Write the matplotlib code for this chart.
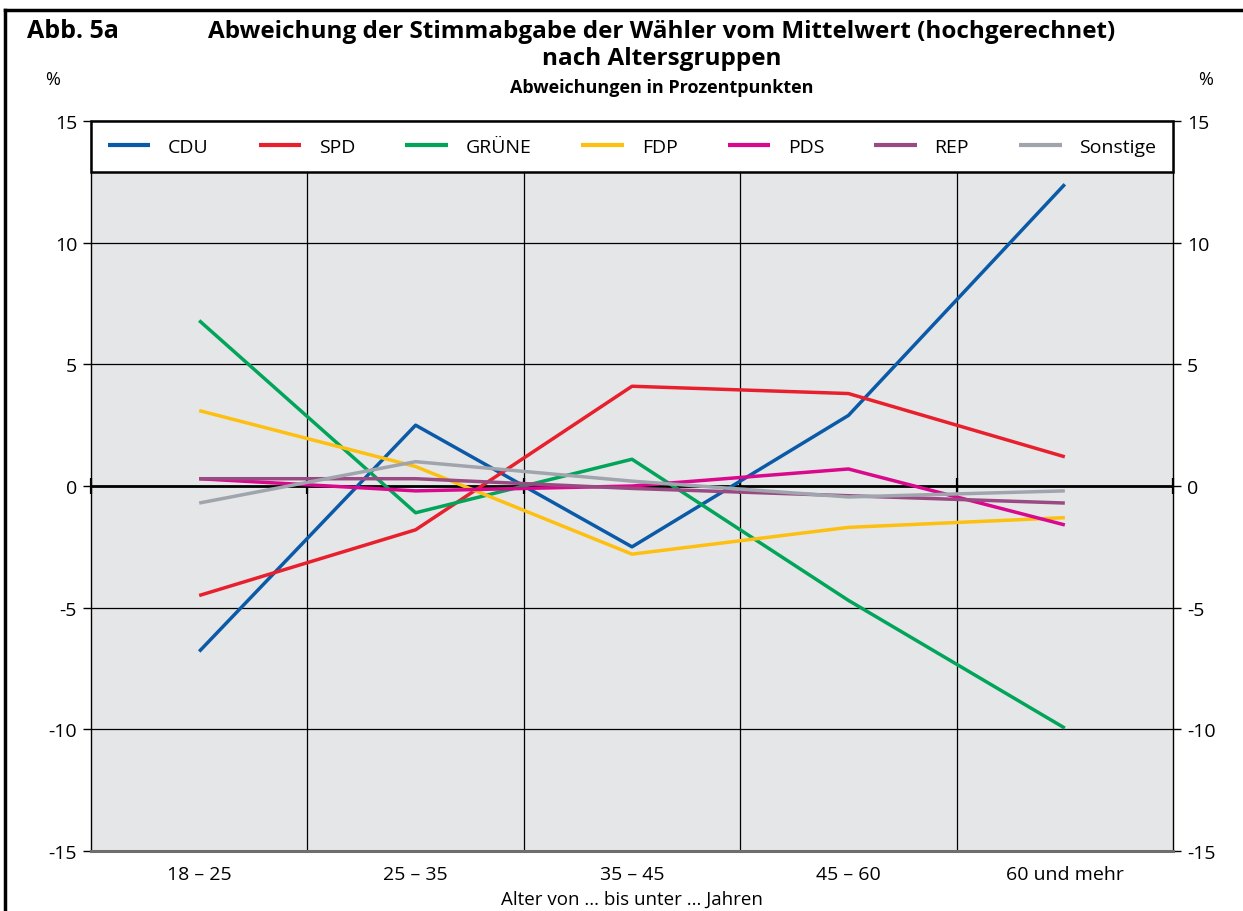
import numpy as np
import matplotlib.pyplot as plt
from matplotlib.lines import Line2D

plt.rcParams['font.family'] = ['Open Sans', 'DejaVu Sans']

# Altersgruppen und Abweichungen in Prozentpunkten
groups = ['18 – 25', '25 – 35', '35 – 45', '45 – 60', '60 und mehr']
cdu = [-6.8, 2.5, -2.5, 2.9, 12.4]
spd = [-4.5, -1.8, 4.1, 3.8, 1.2]
gruene = [6.8, -1.1, 1.1, -4.7, -9.95]
fdp = [3.1, 0.8, -2.8, -1.7, -1.3]
pds = [0.3, -0.2, 0.0, 0.7, -1.6]
rep = [0.3, 0.3, -0.1, -0.4, -0.7]
sonstige = [-0.7, 1.0, 0.2, -0.45, -0.2]

parties = ['CDU', 'SPD', 'GRÜNE', 'FDP', 'PDS', 'REP', 'Sonstige']
series = [cdu, spd, gruene, fdp, pds, rep, sonstige]
colors = ['#0a5aa8', '#e8202d', '#00a55a', '#fdc010', '#d9088c', '#9a4a82', '#a0a5ad']

fig = plt.figure(figsize=(12.43, 9.12), dpi=100)
ax = fig.add_axes([0.0732, 0.0658, 0.8705, 0.8004])
ax.set_facecolor('#e5e6e8')

x = np.arange(len(groups))
for vals, name, col in zip(series, parties, colors):
    ax.plot(x, vals, color=col, lw=2.5, label=name, zorder=3,
            solid_capstyle='butt')

ax.set_xlim(-0.5, len(groups) - 0.5)
ax.set_ylim(-15, 15)
ax.set_xticks(x)
ax.set_xticklabels(groups)
ax.set_yticks([-15, -10, -5, 0, 5, 10, 15])
ax.set_yticklabels(['-15', '-10', '-5', '0', '5', '10', '15'])

# Gitter
bounds = np.arange(len(groups) - 1) + 0.5
for b in bounds:
    ax.axvline(b, color='black', lw=0.9, zorder=1)
for yv in [-10, -5, 5, 10]:
    ax.axhline(yv, color='black', lw=0.9, zorder=1)
ax.axhline(0, color='black', lw=2, zorder=2)
edges = np.arange(len(groups) + 1) - 0.5
ax.plot(edges, np.zeros(len(edges)), ls='none', marker='|', ms=12,
        mew=1.6, color='black', zorder=2, clip_on=False)

ax.tick_params(axis='y', which='both', direction='out', length=6, width=1,
               labelsize=14, right=True, labelright=True, pad=4)
ax.tick_params(axis='x', length=0, labelsize=14, pad=10)
ax.set_xlabel('Alter von ... bis unter ... Jahren', fontsize=13.5, labelpad=5)

for s in ['left', 'right', 'top']:
    ax.spines[s].set_color('black')
    ax.spines[s].set_linewidth(1)
ax.spines['bottom'].set_color('#6e6e6e')
ax.spines['bottom'].set_linewidth(2.2)

leg = ax.legend(loc='upper left', bbox_to_anchor=(0, 1, 1, 0), mode='expand',
                ncol=7, fontsize=14, frameon=True, fancybox=False,
                handlelength=2.2, handletextpad=0.9, borderpad=0.85,
                borderaxespad=0, columnspacing=1.0)
leg.get_frame().set_edgecolor('black')
leg.get_frame().set_linewidth(1.8)
leg.get_frame().set_facecolor('white')
leg.get_frame().set_alpha(1)
leg.set_zorder(5)
for h in leg.get_lines():
    h.set_linewidth(3)

# Titel
fig.text(0.022, 0.965, 'Abb. 5a', fontsize=18, fontweight='bold', va='center')
fig.text(0.532, 0.965, 'Abweichung der Stimmabgabe der Wähler vom Mittelwert (hochgerechnet)',
         fontsize=17.5, fontweight='bold', ha='center', va='center')
fig.text(0.532, 0.935, 'nach Altersgruppen', fontsize=17.5, fontweight='bold',
         ha='center', va='center')
fig.text(0.532, 0.903, 'Abweichungen in Prozentpunkten', fontsize=13,
         fontweight='bold', ha='center', va='center')
fig.text(0.042, 0.912, '%', fontsize=13, ha='center', va='center')
fig.text(0.970, 0.912, '%', fontsize=13, ha='center', va='center')

# Rahmen oben und links
fig.add_artist(Line2D([0.004, 1.0], [0.988, 0.988], color='black', lw=2.5))
fig.add_artist(Line2D([0.004, 0.004], [0.0, 0.988], color='black', lw=2.5))

fig.savefig('out.png', dpi=100)
